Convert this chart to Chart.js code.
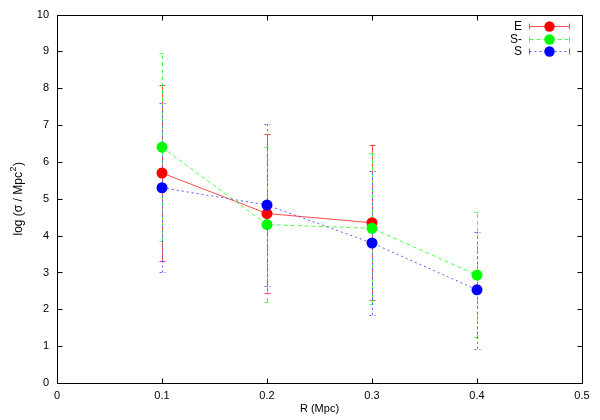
<!DOCTYPE html>
<html>
<head>
<meta charset="utf-8">
<script src="https://cdn.jsdelivr.net/npm/chart.js@4/dist/chart.umd.min.js"></script>
<style>
  html, body { margin: 0; padding: 0; background: #fff; }
  #wrap { width: 600px; height: 420px; }
</style>
</head>
<body>
<div id="wrap"><canvas id="chart" width="600" height="420"></canvas></div>
<script>
// values
const radii = [0.1, 0.2, 0.3, 0.4];
const seriesNames = ['E', 'S-', 'S'];
const eValues = [5.7, 4.6, 4.35];
const eLow = [3.3, 2.45, 2.25];
const eHigh = [8.1, 6.75, 6.45];
const s0Values = [6.4, 4.3, 4.2, 2.93];
const s0Low = [3.85, 2.2, 2.15, 1.25];
const s0High = [8.95, 6.4, 6.25, 4.63];
const sValues = [5.3, 4.83, 3.8, 2.53];
const sLow = [3.0, 2.63, 1.85, 0.93];
const sHigh = [7.6, 7.03, 5.75, 4.1];
const xTicks = [0, 0.1, 0.2, 0.3, 0.4, 0.5];
const yTicks = [0, 1, 2, 3, 4, 5, 6, 7, 8, 9, 10];

const FONT = '"Liberation Sans", Arial, sans-serif';

function points(values, low, high) {
    return values.map((v, i) => ({ x: radii[i], y: v, lo: low[i], hi: high[i] }));
}

const styles = [
    { line: '#ff4a4a', mark: '#ff0000', dash: [] },
    { line: '#4aff4a', mark: '#00ff00', dash: [4, 3] },
    { line: '#5a5aff', mark: '#0000ff', dash: [2, 3] }
];

function makeSet(i, data, order) {
    return {
        label: seriesNames[i],
        data: data,
        borderColor: styles[i].line,
        backgroundColor: styles[i].mark,
        borderWidth: 1,
        borderDash: styles[i].dash,
        pointRadius: 5.5,
        pointHoverRadius: 5.5,
        pointBorderWidth: 0,
        pointBackgroundColor: styles[i].mark,
        tension: 0,
        order: order
    };
}

// error bars, drawn before the lines and markers
const errorBars = {
    id: 'errorBars',
    beforeDatasetsDraw(chart) {
        const ctx = chart.ctx;
        const xs = chart.scales.x, ys = chart.scales.y;
        ctx.save();
        ctx.lineWidth = 1;
        chart.data.datasets.forEach((ds, i) => {
            ctx.strokeStyle = styles[i].line;
            ctx.setLineDash(styles[i].dash);
            ds.data.forEach(p => {
                const px = Math.round(xs.getPixelForValue(p.x)) + 0.5;
                const top = ys.getPixelForValue(p.hi);
                const bot = ys.getPixelForValue(p.lo);
                ctx.beginPath();
                ctx.moveTo(px, bot);
                ctx.lineTo(px, top);
                ctx.stroke();
                ctx.beginPath();
                ctx.moveTo(px - 3, Math.round(top) + 0.5);
                ctx.lineTo(px + 3, Math.round(top) + 0.5);
                ctx.moveTo(px - 3, Math.round(bot) + 0.5);
                ctx.lineTo(px + 3, Math.round(bot) + 0.5);
                ctx.stroke();
            });
        });
        ctx.restore();
    }
};

// gnuplot style frame with inward ticks on all four sides, the key and the y title
const frame = {
    id: 'frame',
    afterDraw(chart) {
        const ctx = chart.ctx;
        const a = chart.chartArea;
        const xs = chart.scales.x, ys = chart.scales.y;
        const L = Math.round(a.left) + 0.5, R = Math.round(a.right) + 0.5;
        const T = Math.round(a.top) + 0.5, B = Math.round(a.bottom) + 0.5;
        ctx.save();
        ctx.strokeStyle = '#000';
        ctx.lineWidth = 1;
        ctx.setLineDash([]);
        ctx.strokeRect(L, T, R - L, B - T);
        ctx.beginPath();
        xTicks.forEach(v => {
            const px = Math.round(xs.getPixelForValue(v)) + 0.5;
            ctx.moveTo(px, B); ctx.lineTo(px, B - 5);
            ctx.moveTo(px, T); ctx.lineTo(px, T + 5);
        });
        yTicks.forEach(v => {
            const py = Math.round(ys.getPixelForValue(v)) + 0.5;
            ctx.moveTo(L, py); ctx.lineTo(L + 5, py);
            ctx.moveTo(R, py); ctx.lineTo(R - 5, py);
        });
        ctx.stroke();

        // key
        ctx.font = '12px ' + FONT;
        ctx.textAlign = 'right';
        ctx.textBaseline = 'middle';
        const rowY = [26, 38.5, 51];
        seriesNames.forEach((name, i) => {
            const y = Math.round(rowY[i]) + 0.5;
            ctx.fillStyle = '#000';
            ctx.fillText(name, 522, y);
            ctx.strokeStyle = styles[i].line;
            ctx.setLineDash(styles[i].dash);
            ctx.beginPath();
            ctx.moveTo(529.5, y); ctx.lineTo(569.5, y);
            ctx.stroke();
            ctx.setLineDash([]);
            ctx.beginPath();
            ctx.moveTo(529.5, y - 3); ctx.lineTo(529.5, y + 3);
            ctx.moveTo(569.5, y - 3); ctx.lineTo(569.5, y + 3);
            ctx.stroke();
            ctx.fillStyle = styles[i].mark;
            ctx.beginPath();
            ctx.arc(549.5, y, 5.2, 0, Math.PI * 2);
            ctx.fill();
        });

        // y title with a raised superscript
        const main = 'log (\u03c3 / Mpc', sup = '2', tail = ')';
        ctx.translate(19, (a.top + a.bottom) / 2);
        ctx.rotate(-Math.PI / 2);
        ctx.fillStyle = '#000';
        ctx.textAlign = 'left';
        ctx.textBaseline = 'middle';
        ctx.font = '12px ' + FONT;
        const w1 = ctx.measureText(main).width;
        const w3 = ctx.measureText(tail).width;
        ctx.font = '9px ' + FONT;
        const w2 = ctx.measureText(sup).width;
        const x0 = -(w1 + w2 + w3 + 1) / 2;
        ctx.font = '12px ' + FONT;
        ctx.fillText(main, x0, 0);
        ctx.font = '9px ' + FONT;
        ctx.fillText(sup, x0 + w1 + 0.5, -5);
        ctx.font = '12px ' + FONT;
        ctx.fillText(tail, x0 + w1 + w2 + 1, 0);
        ctx.restore();
    }
};

new Chart(document.getElementById('chart').getContext('2d'), {
    type: 'line',
    data: {
        datasets: [
            makeSet(0, points(eValues, eLow, eHigh), 3),
            makeSet(1, points(s0Values, s0Low, s0High), 2),
            makeSet(2, points(sValues, sLow, sHigh), 1)
        ]
    },
    options: {
        responsive: false,
        animation: false,
        layout: { padding: { top: 14, right: 18, left: 0, bottom: 0 } },
        plugins: {
            legend: { display: false },
            tooltip: { enabled: false }
        },
        scales: {
            x: {
                type: 'linear',
                min: 0,
                max: 0.5,
                afterFit: s => { s.height = 37; },
                afterBuildTicks: s => { s.ticks = xTicks.map(v => ({ value: v })); },
                grid: { display: false, drawTicks: false },
                border: { display: false },
                ticks: {
                    padding: 6,
                    color: '#000',
                    font: { family: FONT, size: 11 },
                    maxRotation: 0,
                    callback: v => String(v)
                },
                title: {
                    display: true,
                    text: 'R (Mpc)',
                    color: '#000',
                    font: { family: FONT, size: 11 },
                    padding: { top: 4, bottom: 4 }
                }
            },
            y: {
                type: 'linear',
                min: 0,
                max: 10,
                afterFit: s => { s.width = 57; },
                afterBuildTicks: s => { s.ticks = yTicks.map(v => ({ value: v })); },
                grid: { display: false, drawTicks: false },
                border: { display: false },
                ticks: {
                    padding: 8,
                    color: '#000',
                    font: { family: FONT, size: 11 },
                    callback: v => String(v)
                }
            }
        }
    },
    plugins: [errorBars, frame]
});
</script>
</body>
</html>
